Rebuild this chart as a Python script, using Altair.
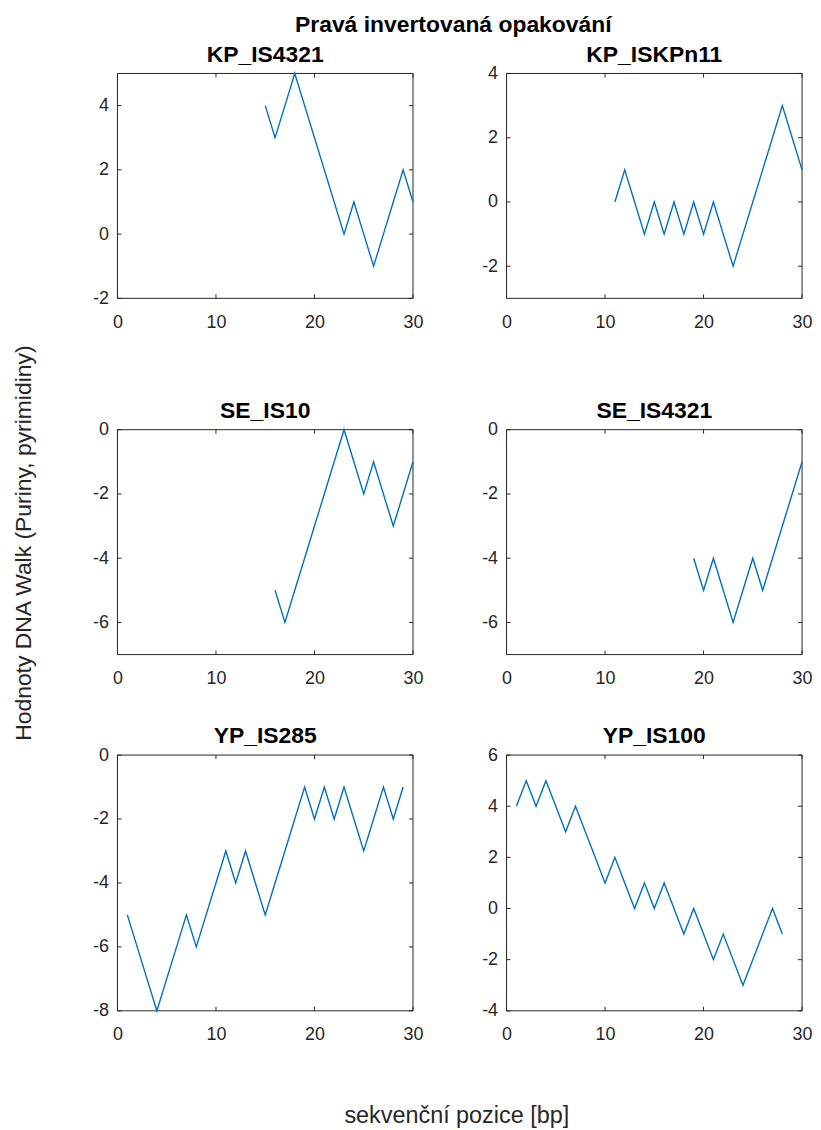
import altair as alt
import pandas as pd

# ---------------- data ----------------
SUPTITLE = "Pravá invertovaná opakování"
XTITLE = "sekvenční pozice [bp]"
YTITLE = "Hodnoty DNA Walk (Puriny, pyrimidiny)"

names = ["KP_IS4321", "KP_ISKPn11", "SE_IS10", "SE_IS4321", "YP_IS285", "YP_IS100"]

kp4321_x = list(range(15, 31))
kp4321_y = [4, 3, 4, 5, 4, 3, 2, 1, 0, 1, 0, -1, 0, 1, 2, 1]

kpn11_x = list(range(11, 31))
kpn11_y = [0, 1, 0, -1, 0, -1, 0, -1, 0, -1, 0, -1, -2, -1, 0, 1, 2, 3, 2, 1]

se10_x = list(range(16, 31))
se10_y = [-5, -6, -5, -4, -3, -2, -1, 0, -1, -2, -1, -2, -3, -2, -1]

se4321_x = list(range(19, 31))
se4321_y = [-4, -5, -4, -5, -6, -5, -4, -5, -4, -3, -2, -1]

yp285_x = list(range(1, 30))
yp285_y = [-5, -6, -7, -8, -7, -6, -5, -6, -5, -4, -3, -4, -3, -4, -5, -4,
           -3, -2, -1, -2, -1, -2, -1, -2, -3, -2, -1, -2, -1]

yp100_x = list(range(1, 29))
yp100_y = [4, 5, 4, 5, 4, 3, 4, 3, 2, 1, 2, 1, 0, 1, 0, 1, 0, -1, 0, -1,
           -2, -1, -2, -3, -2, -1, 0, -1]

xs_all = [kp4321_x, kpn11_x, se10_x, se4321_x, yp285_x, yp100_x]
ys_all = [kp4321_y, kpn11_y, se10_y, se4321_y, yp285_y, yp100_y]

x_domain = [0, 30]
x_ticks = [0, 10, 20, 30]
y_domains = [[-2, 5], [-3, 4], [-7, 0], [-7, 0], [-8, 0], [-4, 6]]
y_ticks = [[-2, 0, 2, 4], [-2, 0, 2, 4], [-6, -4, -2, 0], [-6, -4, -2, 0],
           [-8, -6, -4, -2, 0], [-4, -2, 0, 2, 4, 6]]

# ---------------- style / layout ----------------
FONT = "Liberation Sans"
AX = "#262626"
LINE = "#0072BD"
W = 297          # plot width
H = 226          # grid cell height
TOP_OFF = [0, 0, 0, 0, -31, -31]   # bottom-row axes are taller (extend upward)
TL = 4           # inward tick length


def label(text, x, y, size, weight="normal", color="#000000", angle=0):
    kw = dict(fontSize=size, font=FONT, fontWeight=weight, color=color,
              align="center", baseline="alphabetic")
    if angle:
        kw.update(angle=angle, baseline="middle")
    return alt.Chart(pd.DataFrame({"t": [text]})).mark_text(**kw).encode(
        text="t:N", x=alt.value(x), y=alt.value(y))


def panel(i, extra=()):
    t0 = TOP_OFF[i]
    df = pd.DataFrame({"x": xs_all[i], "y": ys_all[i]})
    xsc = alt.Scale(domain=x_domain, nice=False, zero=False)
    ysc = alt.Scale(domain=y_domains[i], nice=False, zero=False, range=[H, t0])
    xaxis = alt.Axis(values=x_ticks, title=None, grid=False, domain=False, ticks=False,
                     labelFontSize=18, labelFont=FONT, labelColor=AX, labelPadding=15,
                     labelFlush=False, labelOverlap=False, labelExpr="'' + datum.value")
    yaxis = alt.Axis(values=y_ticks[i], title=None, grid=False, domain=False, ticks=False,
                     labelFontSize=18, labelFont=FONT, labelColor=AX, labelPadding=9,
                     labelFlush=False, labelOverlap=False, labelExpr="'' + datum.value")
    line = alt.Chart(df).mark_line(color=LINE, strokeWidth=1.4).encode(
        x=alt.X("x:Q", scale=xsc, axis=xaxis),
        y=alt.Y("y:Q", scale=ysc, axis=yaxis),
    )
    xt = pd.DataFrame({"t": x_ticks})
    yt = pd.DataFrame({"t": y_ticks[i]})
    rule = dict(color=AX, strokeWidth=1)
    bottom = alt.Chart(xt).mark_rule(**rule).encode(
        x=alt.X("t:Q", scale=xsc, axis=xaxis), y=alt.value(H), y2=alt.value(H - TL))
    top = alt.Chart(xt).mark_rule(**rule).encode(
        x=alt.X("t:Q", scale=xsc, axis=xaxis), y=alt.value(t0), y2=alt.value(t0 + TL))
    left = alt.Chart(yt).mark_rule(**rule).encode(
        y=alt.Y("t:Q", scale=ysc, axis=yaxis), x=alt.value(0), x2=alt.value(TL))
    right = alt.Chart(yt).mark_rule(**rule).encode(
        y=alt.Y("t:Q", scale=ysc, axis=yaxis), x=alt.value(W), x2=alt.value(W - TL))
    # axes box
    box_h = alt.Chart(pd.DataFrame({"b": [t0, H]})).mark_rule(**rule).encode(
        y=alt.Y("b:Q", scale=None), x=alt.value(0), x2=alt.value(W))
    box_v = alt.Chart(pd.DataFrame({"b": [0, W]})).mark_rule(**rule).encode(
        x=alt.X("b:Q", scale=None), y=alt.value(t0), y2=alt.value(H))
    ttl = label(names[i], W / 2, t0 - 12, 23, weight="bold")
    return alt.layer(box_h, box_v, line, bottom, top, left, right, ttl, *extra).properties(
        width=W, height=H,
    )


sup = label(SUPTITLE, 337.5, -42, 23, weight="bold")
ytl = label(YTITLE, -94, 114, 23, color=AX, angle=270)
xtl = label(XTITLE, 341, 339, 23.5, color=AX)

panels = [panel(0, [sup]), panel(1), panel(2, [ytl]), panel(3), panel(4, [xtl]), panel(5)]

chart = alt.concat(*panels, columns=2, spacing={"row": 132, "column": 94},
                   bounds="flush", align="all").properties(
    padding={"left": 4, "top": 3, "right": 0, "bottom": 0},
    background="white",
).configure_view(strokeOpacity=0)

chart.save("out.html", embed_options={"renderer": "svg", "actions": False})
